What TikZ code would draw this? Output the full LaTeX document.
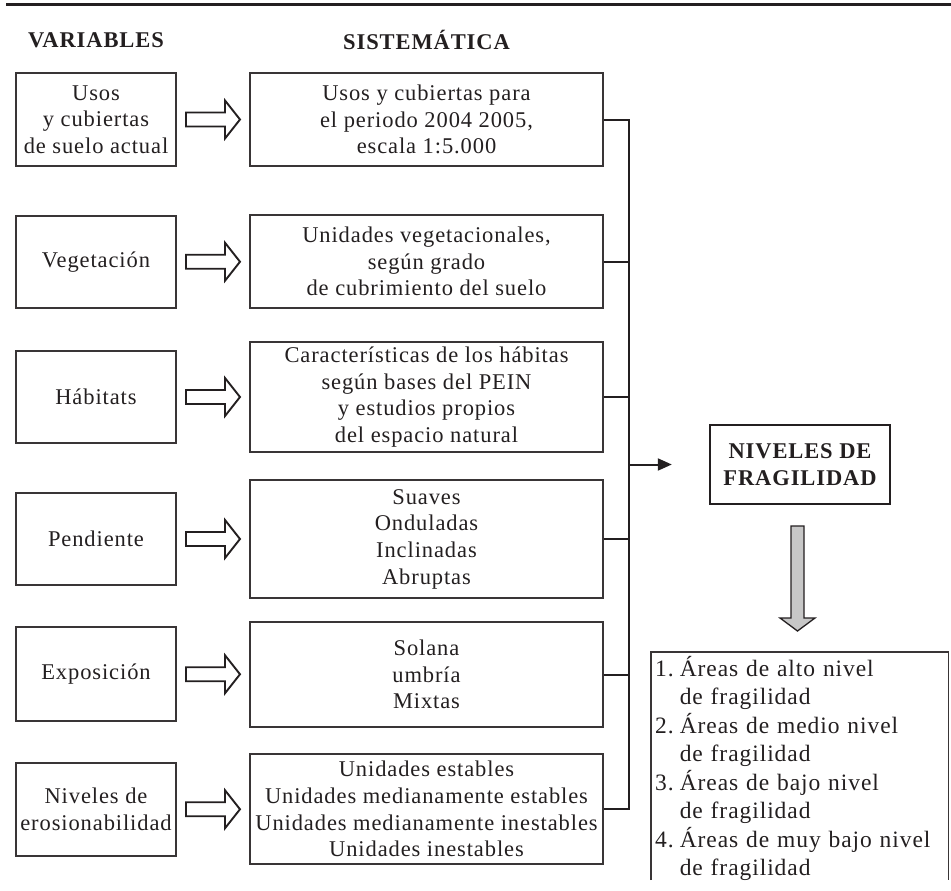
\documentclass[tikz,border=0pt]{standalone}
\usepackage{fontspec}
\setmainfont{Liberation Serif}[LetterSpace=4]
\usetikzlibrary{calc,arrows.meta}
\definecolor{ink}{HTML}{231F20}
\tikzset{
  lbox/.style={draw=ink!90, line width=1.1pt, minimum width=160pt, align=center, inner sep=0pt},
  rbox/.style={draw=ink!90, line width=1.1pt, minimum width=353pt, align=center, inner sep=0pt},
  conn/.style={line width=2pt, draw=ink},
  headtxt/.style={font=\fontsize{22.5}{27}\selectfont\bfseries},
  harrow/.pic={\draw[line width=1.9pt, draw=ink, line join=miter, fill=white]
     (-27,-7) -- (12,-7) -- (12,-19) -- (27,0) -- (12,19) -- (12,7) -- (-27,7) -- cycle;}
}
\begin{document}
\begin{tikzpicture}[x=1pt, y=-1pt, font=\fontsize{22.5}{26.7}\selectfont, text=ink]
\useasboundingbox (0,0) rectangle (951,891);
\draw[line width=3pt, ink] (6,5) -- (951,5);

\node[headtxt] (hv) at (96,40) {VARIABLES};
\node[headtxt] (hs) at (426.5,40) {SISTEMÁTICA};

\node[lbox, minimum height=93pt] (l1) at (96,119.5) {Usos\\y cubiertas\\de suelo actual};
\node[rbox, minimum height=93pt] (r1) at (426.5,119.5) {Usos y cubiertas para\\el periodo 2004 2005,\\escala 1:5.000};

\node[lbox, minimum height=92pt] (l2) at (96,262) {Vegetación};
\node[rbox, minimum height=93pt] (r2) at (426.5,261.5) {Unidades vegetacionales,\\según grado\\de cubrimiento del suelo};

\node[lbox, minimum height=92pt] (l3) at (96,397) {Hábitats};
\node[rbox, minimum height=110pt] (r3) at (426.5,397) {Características de los hábitas\\según bases del PEIN\\y estudios propios\\del espacio natural};

\node[lbox, minimum height=92pt] (l4) at (96,539) {Pendiente};
\node[rbox, minimum height=118pt] (r4) at (426.5,539) {Suaves\\Onduladas\\Inclinadas\\Abruptas};

\node[lbox, minimum height=94pt] (l5) at (96,674) {Exposición};
\node[rbox, minimum height=105pt] (r5) at (426.5,674.5) {Solana\\umbría\\Mixtas};

\node[lbox, minimum height=93pt] (l6) at (96,809.5) {Niveles de\\erosionabilidad};
\node[rbox, minimum height=110pt] (r6) at (426.5,809) {Unidades estables\\Unidades medianamente estables\\Unidades medianamente inestables\\Unidades inestables};

\foreach \i in {1,...,6}{
  \pic at ($(l\i.east)!0.5!(r\i.west)$) {harrow};
}

\coordinate (bus) at (629,0);
\draw[conn, line join=miter] (r1.east) -| (r6.east -| bus) -- (r6.east);
\foreach \i in {2,...,5}{
  \draw[conn] (r\i.east) -- (r\i.east -| bus);
}

\node[draw=ink, line width=2.4pt, minimum width=180pt, minimum height=79pt, align=center,
      font=\fontsize{22.5}{27}\selectfont\bfseries] (niv) at (800,464.5) {NIVELES DE\\FRAGILIDAD};
\draw[conn, -{Triangle[length=14pt,width=12pt]}, shorten >=37pt] (bus |- niv.west) -- (niv.west);

\draw[line width=1.3pt, draw=ink, fill=black!22, line join=miter]
  (791,526) -- (804,526) -- (804,618) -- (815,618) -- (797.5,631) -- (780,618) -- (791,618) -- cycle;

\node[anchor=north west, minimum width=297pt, minimum height=236pt, inner xsep=4pt, inner ysep=0pt,
      text width=289pt, align=left, font=\fontsize{23.5}{28.3}\selectfont] (lst) at (651,652)
  {\begin{tabular}{@{}l@{\hspace{6pt}}l@{}}
   1. & Áreas de alto nivel\\
      & de fragilidad\\
   2. & Áreas de medio nivel\\
      & de fragilidad\\
   3. & Áreas de bajo nivel\\
      & de fragilidad\\
   4. & Áreas de muy bajo nivel\\
      & de fragilidad
   \end{tabular}};
\draw[draw=ink!90, line width=1.1pt] (lst.north west) ++(0,228) -- (lst.north west) -- (lst.north east) -- ++(0,228);
\end{tikzpicture}
\end{document}
